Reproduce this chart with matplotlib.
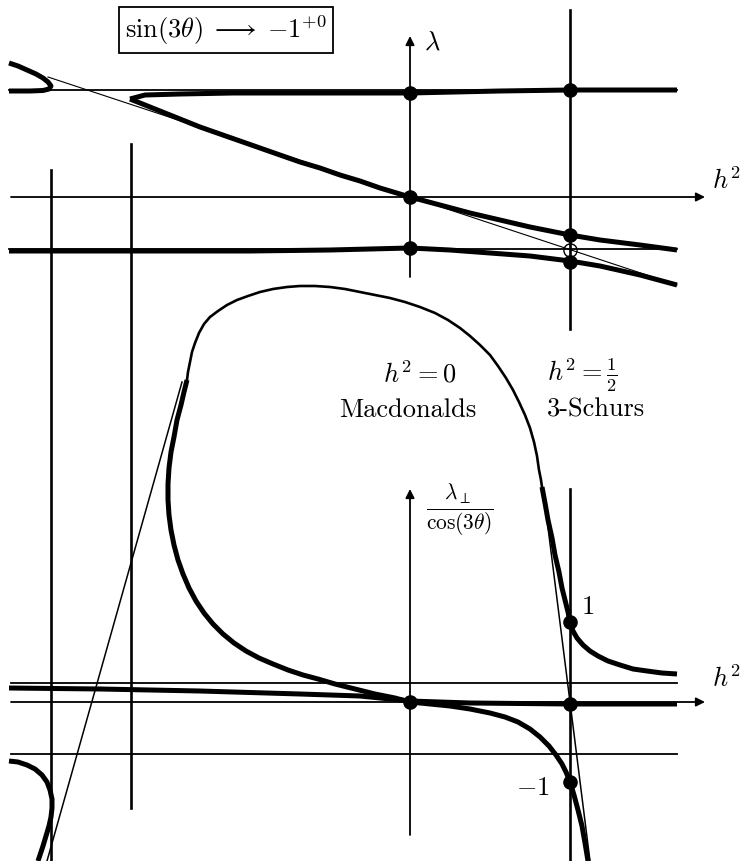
import numpy as np
import matplotlib.pyplot as plt

plt.rcParams['mathtext.fontset'] = 'cm'

# ---- values (pixel coordinates, y downwards) ----
# top panel
top_left_x = [9, 18, 27, 36, 43, 48, 51, 49, 43, 30, 9]
top_left_y = [63, 66, 70, 74, 78, 82, 86, 89, 90.5, 91, 91]

cusp_up_x = [130, 145, 180, 233, 300, 410, 500, 570, 677]
cusp_up_y = [99, 95, 94, 93, 93, 93, 91, 90, 90]

cusp_down_x = [130, 140, 150, 165, 180, 200, 220, 240, 260, 280, 300, 320, 340, 360,
               380, 410, 440, 470, 500, 530, 550, 570, 600, 640, 677]
cusp_down_y = [99, 103, 107, 113, 119, 127, 134, 141, 148, 155, 162, 168, 175, 181,
               188, 197, 205, 213, 220, 227, 231, 235, 240, 245, 250]

lower_top_x = [9, 250, 330, 410, 450, 490, 530, 570, 600, 640, 677]
lower_top_y = [251, 251, 250, 248, 250, 253, 256, 261, 266, 275, 285]

tangent_top_x = [48, 677]
tangent_top_y = [77, 285]

top_dots_x = [410, 570, 410, 410, 570, 570]
top_dots_y = [93, 90, 197, 248, 235, 262]
open_dot = (570, 250)

# bottom panel
loop_x = [187, 188, 190, 192, 195, 199, 204, 210, 218, 227, 237, 248, 260, 273, 287,
          300, 315, 330, 345, 360, 375, 390, 405, 420, 435, 448, 460, 470, 480, 490,
          498, 506, 513, 519, 525, 530, 534, 537, 539, 541, 542]
loop_y = [380, 372, 362, 352, 343, 333, 324, 317, 311, 305, 300, 296, 292, 289, 287,
          286, 286, 287, 289, 292, 295, 298, 302, 307, 313, 320, 328, 336, 345, 355,
          366, 378, 390, 402, 415, 428, 442, 456, 470, 480, 487]

right_x = [542, 545, 548, 552, 555, 559, 562, 565, 568, 570, 573, 577, 583, 590, 598,
           608, 620, 633, 647, 662, 677]
right_y = [487, 503, 520, 538, 555, 572, 588, 600, 612, 622, 631, 638, 645, 651, 656,
           661, 665, 669, 671, 673, 674]

left_loop_x = [187, 184, 181, 177, 174, 171, 169, 168, 168, 169, 171, 174, 178, 183,
               189, 196, 204, 213, 223, 234, 246, 259, 273, 288, 303, 318, 335, 355,
               375, 395, 410]
left_loop_y = [380, 392, 405, 420, 437, 452, 468, 484, 500, 515, 530, 545, 560, 574,
               588, 601, 613, 624, 634, 643, 651, 658, 664, 670, 675, 679, 684, 689,
               694, 698, 702]

flat_x = [9, 100, 200, 300, 360, 410, 470, 570, 677]
flat_y = [688, 689, 691, 694, 696, 701, 703, 704, 704]

s_x = [410, 430, 450, 470, 490, 505, 518, 530, 540, 549, 556, 562, 566, 570, 574, 578,
       582, 585, 588]
s_y = [702, 704, 706, 709, 713, 717, 722, 729, 737, 746, 755, 764, 772, 782, 795, 810,
       826, 843, 861]

corner_x = [9, 18, 27, 35, 42, 47, 50, 52, 52, 51, 49, 46, 43, 38]
corner_y = [761, 762, 765, 769, 775, 782, 790, 799, 808, 817, 826, 836, 846, 861]

tangent_left_x = [182, 47]
tangent_left_y = [382, 861]
tangent_right_x = [543, 570, 590]
tangent_right_y = [488, 702, 861]

bottom_dots_x = [410, 570, 570, 570]
bottom_dots_y = [702, 622, 704, 782]

# straight guide lines
hlines_y = [90, 249, 683, 754]
hlines_x0 = [9, 9, 11, 11]
hlines_x1 = [677, 677, 677, 677]
vlines_x = [51, 131, 570, 570]
vlines_y0 = [170, 144, 10, 489]
vlines_y1 = [861, 808, 329, 861]

fig = plt.figure(figsize=(7.43, 8.61), dpi=100)
ax = fig.add_axes([0, 0, 1, 1])
ax.set_xlim(0, 743)
ax.set_ylim(861, 0)
ax.axis('off')

k = 'black'
for y, x0, x1 in zip(hlines_y, hlines_x0, hlines_x1):
    ax.plot([x0, x1], [y, y], color=k, lw=1.3)
for x, y0, y1 in zip(vlines_x, vlines_y0, vlines_y1):
    ax.plot([x, x], [y0, y1], color=k, lw=1.9)

# axes with arrows
arr = dict(arrowstyle='-|>', color=k, lw=1.3, mutation_scale=13, shrinkA=0, shrinkB=0)
ax.annotate('', xy=(705, 197), xytext=(11, 197), arrowprops=arr)
ax.annotate('', xy=(410, 36), xytext=(410, 277), arrowprops=arr)
ax.annotate('', xy=(705, 702), xytext=(11, 702), arrowprops=arr)
ax.annotate('', xy=(410, 489), xytext=(410, 835), arrowprops=arr)

# thin tangents
ax.plot(tangent_top_x, tangent_top_y, color=k, lw=0.8)
ax.plot(tangent_left_x, tangent_left_y, color=k, lw=1.1)
ax.plot(tangent_right_x, tangent_right_y, color=k, lw=1.1)

# curves
thick = 3.6
for xs, ys in [(top_left_x, top_left_y), (cusp_up_x, cusp_up_y),
               (cusp_down_x, cusp_down_y), (lower_top_x, lower_top_y),
               (right_x, right_y), (left_loop_x, left_loop_y), (flat_x, flat_y),
               (s_x, s_y), (corner_x, corner_y)]:
    ax.plot(xs, ys, color=k, lw=thick, solid_capstyle='butt', solid_joinstyle='round')
ax.plot(loop_x, loop_y, color=k, lw=1.9, solid_joinstyle='round')

ax.plot(top_dots_x, top_dots_y, 'o', color=k, ms=9.5)
ax.plot(bottom_dots_x, bottom_dots_y, 'o', color=k, ms=9.5)
ax.plot(*open_dot, 'o', mfc='none', mec=k, mew=1.0, ms=9.5)

# text
fs = 19
ax.text(226, 30, r'$\sin(3\theta)\;\longrightarrow\;{-1}^{+0}$', fontsize=fs, ha='center', va='center',
        bbox=dict(boxstyle='square,pad=0.25', fc='white', ec=k, lw=1.3))
ax.text(424, 43, r'$\lambda$', fontsize=fs, ha='left', va='center')
ax.text(712, 182, r'$h^2$', fontsize=fs, ha='left', va='center')
ax.text(712, 680, r'$h^2$', fontsize=fs, ha='left', va='center')
ax.text(420, 375, r'$h^2=0$', fontsize=fs, ha='center', va='center')
ax.text(408, 410, 'Macdonalds', fontsize=fs, ha='center', va='center', family='cmr10')
ax.text(582, 375, r'$h^2=\frac{1}{2}$', fontsize=fs, ha='center', va='center')
ax.text(596, 410, '3-Schurs', fontsize=fs, ha='center', va='center', family='cmr10')
ax.text(460, 510, r'$\frac{\lambda_\perp}{\cos(3\theta)}$', fontsize=22, ha='center', va='center')
ax.text(588, 607, r'$1$', fontsize=fs, ha='center', va='center')
ax.text(533, 788, r'$-1$', fontsize=fs, ha='center', va='center')

fig.savefig('out.png', dpi=100)
